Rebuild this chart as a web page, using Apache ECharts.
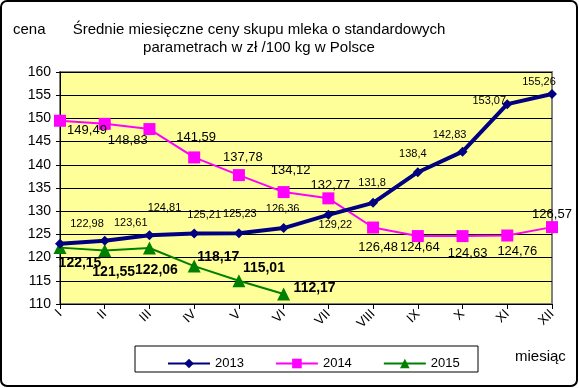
<!DOCTYPE html>
<html><head><meta charset="utf-8">
<script src="https://cdn.jsdelivr.net/npm/echarts@6/dist/echarts.min.js"></script>
<style>html,body{margin:0;padding:0;background:#fff}#c{width:579px;height:388px}</style>
</head><body><div id="c"></div>
<script>
const months = ['I','II','III','IV','V','VI','VII','VIII','IX','X','XI','XII'];
const s2013 = [122.98,123.61,124.81,125.21,125.23,126.36,129.22,131.8,138.4,142.83,153.07,155.26];
const s2014 = [149.49,148.83,147.7,141.59,137.78,134.12,132.77,126.48,124.64,124.63,124.76,126.57];
const s2015 = [122.15,121.55,122.06,118.17,115.01,112.17];
const show2014 = [true,true,false,true,true,true,true,true,true,true,true,true];
const yMin = 110, yMax = 160, yStep = 5;

// label placement (styling)
const off2013 = [[27,-20],[26,-18],[15,-27],[10,-18],[1,-19],[-1,-19],[7,10],[-1,-20],[-5,-18],[-13,-17],[-18,-3],[-13,-12]];
const off2014 = [[27,10],[23,17],[0,0],[2,-20],[4,-18],[7,-22],[2,-13],[5,20],[2,11],[5,17],[10,16],[0,-13]];
const off2015 = [[20,16],[9,22],[7,22],[24,-9],[25,-13],[31,-6]];

const fmt = v => String(v).replace('.', ',');
function build(vals, offs, shows){
  return vals.map((v,i)=>({value:v,label:{show: shows? shows[i] : true, offset: offs[i]}}));
}
const chart = echarts.init(document.getElementById('c'), null, {renderer:'canvas'});
const F = 'Liberation Sans, Arial, sans-serif';
chart.setOption({
  animation:false,
  backgroundColor:'#fff',
  graphic:[
    {type:'rect', shape:{x:1,y:1,width:576,height:385,r:6}, style:{fill:'none',stroke:'#000',lineWidth:2}},
    {type:'rect', shape:{x:135,y:346,width:343,height:26}, style:{fill:'#fff',stroke:'#000',lineWidth:1}, z:-1},
    {type:'text', left:13, top:22, style:{text:'cena', font:'15px '+F, fill:'#000'}},
    {type:'text', left:515, top:349, style:{text:'miesiąc', font:'15px '+F, fill:'#000'}},
    {type:'text', x:259, y:21, style:{text:'Średnie miesięczne ceny skupu mleka o standardowych\nparametrach w zł /100 kg w Polsce', font:'15px '+F, fill:'#000', align:'center', lineHeight:18}}
  ],
  grid:{left:60, right:27, top:72, bottom:84, show:true, backgroundColor:'#FFFF99', borderColor:'#808080', borderWidth:2},
  legend:{
    data:['2013','2014','2015'], top:352, left:162, itemWidth:42, itemHeight:12, itemGap:31,
    textStyle:{fontFamily:F, fontSize:13, color:'#000'}
  },
  xAxis:{
    type:'category', data:months, boundaryGap:false,
    axisLine:{lineStyle:{color:'#000',width:1}},
    axisTick:{show:true, alignWithLabel:true, length:5, lineStyle:{color:'#000'}},
    axisLabel:{rotate:45, fontFamily:F, fontSize:13, color:'#000', margin:8, interval:0},
    splitLine:{show:false}
  },
  yAxis:{
    type:'value', min:yMin, max:yMax, interval:yStep,
    axisLine:{show:true, lineStyle:{color:'#000',width:1}},
    axisTick:{show:true, length:4, lineStyle:{color:'#000'}},
    axisLabel:{fontFamily:F, fontSize:14, color:'#000', margin:9},
    splitLine:{show:true, lineStyle:{color:'#000', width:1}}
  },
  series:[
    {name:'2013', type:'line', data:build(s2013, off2013), symbol:'diamond', symbolSize:10,
     lineStyle:{color:'#000080', width:4}, itemStyle:{color:'#000080'}, z:3,
     label:{show:true, position:'inside', formatter:p=>fmt(p.value), fontFamily:F, fontSize:11, color:'#000'}},
    {name:'2014', type:'line', data:build(s2014, off2014, show2014), symbol:'rect', symbolSize:12,
     lineStyle:{color:'#FF00FF', width:2}, itemStyle:{color:'#FF00FF'}, z:2,
     label:{position:'inside', formatter:p=>fmt(p.value), fontFamily:F, fontSize:13, color:'#000'}},
    {name:'2015', type:'line', data:build(s2015, off2015), symbol:'triangle', symbolSize:13,
     lineStyle:{color:'#008000', width:2}, itemStyle:{color:'#008000'}, z:2,
     label:{show:true, position:'inside', formatter:p=>fmt(p.value), fontFamily:F, fontSize:14, fontWeight:'bold', color:'#000'}}
  ]
});
</script></body></html>
